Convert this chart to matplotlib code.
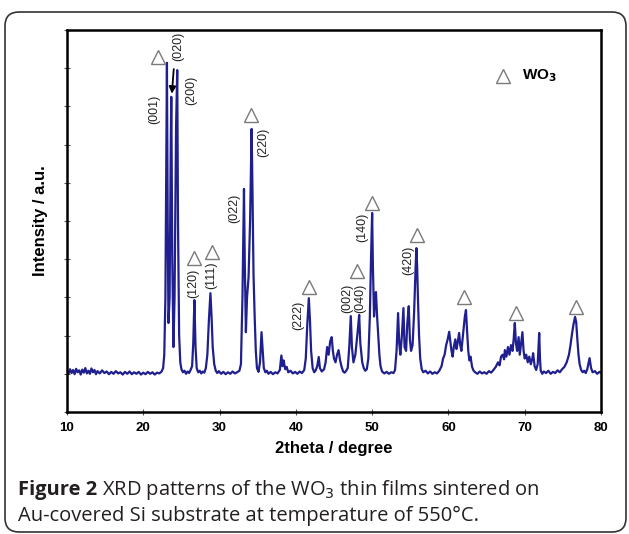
import matplotlib
matplotlib.use("Agg")
from matplotlib import pyplot as plt
from matplotlib.patches import FancyBboxPatch
from matplotlib.transforms import IdentityTransform

# XRD pattern (2theta in degree, intensity in a.u.)
two_theta = [
    10.0, 10.2, 10.4, 10.6, 10.8, 11.0, 11.2, 11.4, 11.6, 11.8, 12.0, 12.2, 12.4, 12.6, 12.8,
    13.0, 13.2, 13.4, 13.6, 13.8, 14.0, 14.3, 14.6, 14.9, 15.2, 15.5, 15.8, 16.1, 16.4, 16.7,
    17.0, 17.3, 17.6, 17.9, 18.2, 18.5, 18.8, 19.1, 19.4, 19.7, 20.0, 20.3, 20.6, 20.9, 21.2,
    21.5, 21.8, 22.1, 22.4,
    22.6, 22.75, 22.9, 23.0, 23.1, 23.2, 23.3, 23.45, 23.6, 23.67, 23.8, 23.95, 24.1, 24.3,
    24.45, 24.55, 24.7, 24.85, 25.0,
    25.2, 25.4, 25.6, 25.8, 26.0, 26.2, 26.4, 26.55, 26.7, 26.85, 27.0, 27.2, 27.4, 27.6, 27.8,
    28.0, 28.2, 28.4, 28.6, 28.8, 28.95, 29.1, 29.3, 29.5, 29.7, 29.9, 30.2, 30.5, 30.8, 31.1,
    31.4, 31.7, 32.0, 32.3, 32.6, 32.8, 33.0, 33.2, 33.3, 33.45, 33.6, 33.8, 34.0, 34.2, 34.3,
    34.45, 34.6, 34.75, 34.9, 35.1, 35.3, 35.5, 35.65, 35.8, 36.0, 36.2, 36.4, 36.7, 37.0, 37.3,
    37.6, 37.9, 38.1, 38.25, 38.4, 38.6, 38.8, 39.0, 39.3, 39.6, 39.9, 40.2, 40.5, 40.8, 41.1,
    41.3, 41.5, 41.7, 41.85, 42.0, 42.2, 42.4, 42.6, 42.8, 43.0, 43.15, 43.4, 43.7, 43.9, 44.1,
    44.3, 44.5, 44.7, 44.85, 45.0, 45.2, 45.4, 45.6, 45.8, 46.0, 46.2, 46.4, 46.6, 46.8, 47.0,
    47.2, 47.35, 47.55, 47.8, 48.1, 48.3, 48.45, 48.7, 48.9, 49.1, 49.3, 49.5, 49.7, 49.85, 50.0,
    50.1, 50.25, 50.4, 50.5, 50.65, 50.8, 50.95, 51.1, 51.3, 51.6, 51.9, 52.2, 52.5, 52.8, 53.0,
    53.2, 53.4, 53.55, 53.7, 53.9, 54.1, 54.25, 54.45, 54.6, 54.8, 54.95, 55.1, 55.3, 55.5, 55.7,
    55.8, 55.9, 56.0, 56.15, 56.3, 56.5, 56.7, 57.0, 57.3, 57.6, 57.9, 58.2, 58.5, 58.8, 59.1,
    59.3, 59.5, 59.7, 59.9, 60.1, 60.25, 60.4, 60.55, 60.7, 60.9, 61.05, 61.2, 61.4, 61.55, 61.7,
    61.85, 62.0, 62.15, 62.3, 62.45, 62.6, 62.75, 62.9, 63.1, 63.3, 63.5, 63.8, 64.1, 64.4, 64.7,
    65.0, 65.3, 65.6, 65.9, 66.2, 66.5, 66.7, 66.9, 67.1, 67.3, 67.4, 67.6, 67.8, 68.0, 68.2,
    68.4, 68.55, 68.7, 68.85, 69.0, 69.2, 69.35, 69.5, 69.7, 69.85, 70.0, 70.2, 70.4, 70.6, 70.8,
    71.0, 71.1, 71.3, 71.5, 71.7, 71.9, 72.0, 72.1, 72.3, 72.5, 72.8, 73.1, 73.4, 73.7, 74.0,
    74.3, 74.6, 74.9, 75.2, 75.5, 75.8, 76.0, 76.2, 76.4, 76.6, 76.75, 76.9, 77.05, 77.2, 77.4,
    77.6, 77.8, 78.0, 78.2, 78.5, 78.7, 78.9, 79.2, 79.5, 79.8, 80.0,
]
intensity = [
    108, 100, 112, 102, 110, 99, 113, 104, 109, 98, 111, 103, 115, 101, 108,
    100, 114, 104, 110, 99, 107, 101, 109, 102, 106, 99, 105, 100, 107, 101,
    104, 98, 105, 100, 106, 99, 104, 100, 105, 98, 103, 99, 105, 100, 104,
    98, 103, 101, 106,
    115, 150, 300, 600, 914, 500, 233, 300, 700, 825, 400, 170, 300, 750,
    895, 500, 200, 130, 112,
    104, 108, 100, 106, 102, 110, 120, 180, 293, 170, 115, 104, 108, 101, 106,
    103, 115, 150, 240, 311, 250, 170, 125, 108, 102, 107, 100, 105, 99, 104,
    100, 106, 101, 104, 108, 125, 300, 584, 400, 209, 300, 353, 500, 741, 600,
    360, 250, 160, 115, 105, 130, 209, 160, 115, 104, 108, 100, 105, 99, 104,
    101, 110, 148, 120, 135, 112, 118, 104, 108, 101, 105, 100, 106, 102, 110,
    140, 230, 298, 240, 160, 115, 104, 109, 120, 144, 115, 106, 112, 130, 170,
    150, 185, 196, 160, 140, 130, 150, 162, 135, 118, 106, 103, 108, 115, 170,
    251, 170, 130, 150, 210, 254, 180, 130, 115, 108, 112, 140, 250, 400, 521,
    380, 250, 300, 314, 250, 200, 150, 120, 106, 101, 105, 100, 104, 102, 110,
    160, 259, 180, 150, 200, 272, 170, 160, 230, 277, 190, 160, 175, 260, 380,
    429, 380, 300, 200, 140, 112, 104, 108, 101, 106, 100, 104, 101, 108, 120,
    140, 150, 175, 190, 210, 185, 160, 145, 170, 190, 165, 180, 207, 175, 160,
    190, 220, 250, 267, 210, 160, 135, 145, 118, 108, 104, 100, 106, 101, 104,
    100, 107, 103, 110, 118, 130, 122, 145, 150, 138, 162, 145, 170, 150, 175,
    160, 190, 233, 180, 160, 196, 150, 175, 209, 160, 140, 150, 130, 145, 125,
    140, 154, 120, 110, 125, 207, 140, 108, 100, 106, 102, 108, 100, 105, 102,
    109, 104, 112, 118, 130, 150, 175, 205, 230, 249, 235, 190, 150, 125, 110,
    104, 108, 102, 112, 141, 115, 104, 107, 100, 105, 103,
]

# WO3 markers (open triangles) above the indexed peaks
marker_x = [21.9, 34.1, 26.6, 29.0, 41.7, 48.0, 50.0, 55.9, 62.0, 68.8, 76.7]
marker_y = [929, 777, 403, 419, 327, 369, 547, 463, 301, 259, 275]

# Miller indices and where they are written
hkl_labels = ["(001)", "(020)", "(200)", "(022)", "(220)", "(120)", "(111)",
              "(222)", "(002)", "(040)", "(140)", "(420)"]
hkl_x = [21.5, 24.55, 26.25, 31.9, 35.7, 26.6, 28.9, 40.3, 46.7, 48.5, 48.7, 54.7]
hkl_y = [791, 958, 843, 534, 707, 338, 359, 254, 298, 298, 484, 398]

x_ticks = [10, 20, 30, 40, 50, 60, 70, 80]

W, H = 629, 534
fig = plt.figure(figsize=(W / 100, H / 100), dpi=100)
ax = fig.add_axes([67 / W, (H - 412) / H, 534 / W, 382 / H])

ax.plot(two_theta, intensity, color="#1f1f8f", lw=1.6)
ax.plot(marker_x, marker_y, ls="none", marker="^", ms=10, mfc="white",
        mec="#7a7a7a", mew=1.0)

for lab, x, y in zip(hkl_labels, hkl_x, hkl_y):
    ax.text(x, y, lab, rotation=90, ha="center", va="center", fontsize=9,
            family="Liberation Sans", color="#222222")

ax.annotate("", xy=(23.72, 826), xytext=(24.02, 905),
            arrowprops=dict(arrowstyle="-|>", color="black", lw=1.3, mutation_scale=10))

# legend
ax.plot([67.1], [880], ls="none", marker="^", ms=10, mfc="white", mec="#7a7a7a", mew=1.0)
ax.text(69.6, 880, r"WO$_\mathbf{3}$", ha="left", va="center", fontsize=11,
        fontweight="bold", family="Liberation Sans")

ax.set_xlim(10, 80)
ax.set_ylim(0, 1000)
ax.set_xticks(x_ticks)
ax.set_yticks(range(0, 1001, 100))
ax.set_yticklabels([])
ax.tick_params(axis="both", direction="inout", length=4, width=0.8, color="#555555")
ax.tick_params(axis="x", pad=5, labelsize=9.5)
for lab in ax.get_xticklabels():
    lab.set_fontweight("bold")
    lab.set_family("Liberation Sans")
for s in ax.spines.values():
    s.set_linewidth(1.8)

ax.set_xlabel("2theta / degree", fontsize=12, fontweight="bold",
              family="Liberation Sans", labelpad=5)
ax.set_ylabel("Intensity / a.u.", fontsize=12, fontweight="bold",
              family="Liberation Sans", labelpad=8)

# caption
renderer = fig.canvas.get_renderer()
cap_size = 14.5
t1 = fig.text(18 / W, 1 - 490 / H, "Figure 2", fontsize=cap_size, fontweight="bold",
              family="Open Sans", va="center", color="#231f20")
bb = t1.get_window_extent(renderer=renderer)
fig.text((bb.x1 + 5) / W, 1 - 490 / H, r"XRD patterns of the WO$_3$ thin films sintered on",
         fontsize=cap_size, family="Open Sans", va="center", color="#231f20")
fig.text(18 / W, 1 - 516 / H, "Au-covered Si substrate at temperature of 550°C.",
         fontsize=cap_size, family="Open Sans", va="center", color="#231f20")

frame = FancyBboxPatch((5, 2), 621, 520, boxstyle="round,pad=0,rounding_size=14",
                       transform=IdentityTransform(), fill=False, ec="#333333", lw=1.2)
fig.patches.append(frame)

fig.savefig("out.png", dpi=100)
